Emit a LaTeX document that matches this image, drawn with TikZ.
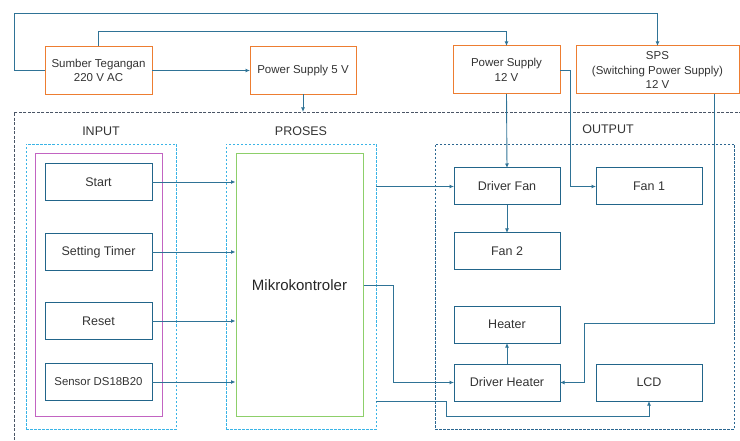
\documentclass[tikz,border=0pt]{standalone}
\usepackage{fontspec}
\setmainfont{Liberation Sans}
\usepackage{xcolor}
\definecolor{psorange}{HTML}{ED7D31}
\definecolor{boxblue}{HTML}{22658A}
\definecolor{lineblue}{HTML}{2F7396}
\definecolor{grpcyan}{HTML}{3AB4E6}
\definecolor{outblue}{HTML}{2B6690}
\definecolor{sysgrey}{HTML}{4A5566}
\definecolor{inpurple}{HTML}{C264C2}
\definecolor{mcgreen}{HTML}{8DCF6A}
\usetikzlibrary{positioning,arrows.meta}
\tikzset{
  psbox/.style ={rectangle, draw=psorange, line width=1pt, align=center, inner sep=2pt,
                 outer sep=0pt, minimum height=48pt, text=black!80,
                 font=\fontsize{11.5}{14.5}\selectfont},
  blk/.style   ={rectangle, draw=boxblue, line width=1pt, align=center, inner sep=2pt,
                 outer sep=0pt, minimum width=107pt, minimum height=37pt, text=black!80,
                 font=\fontsize{12.5}{14}\selectfont},
  grpbox/.style={rectangle, draw=grpcyan, line width=0.9pt, dash pattern=on 2.5pt off 1.5pt,
                 minimum width=150pt, minimum height=285pt, outer sep=0pt},
  sysbox/.style={rectangle, draw=sysgrey, line width=0.9pt, dash pattern=on 3pt off 1.5pt,
                 outer sep=0pt, anchor=north west},
  ttl/.style   ={text=black!80, font=\fontsize{12.5}{14}\selectfont, inner sep=1pt},
  arr/.style   ={-{Latex[length=4.5pt,width=4pt]}, draw=lineblue, line width=0.9pt},
  wire/.style  ={draw=lineblue, line width=0.9pt},
}

\begin{document}
\begin{tikzpicture}[x=1pt, y=-1pt]
  \useasboundingbox (0,0) rectangle (740,441);
  % power sources
  \node[psbox, minimum width=107pt] (src)  at (98.5,70.5) {Sumber Tegangan\\220 V AC};
  \node[psbox, minimum width=106pt] (ps5)  at (303,70.5)  {Power Supply 5 V};
  \node[psbox, minimum width=107pt] (ps12) at (506.5,70)  {Power Supply\\12 V};
  \node[psbox, minimum width=163pt] (sps)  at (657.5,70)  {SPS\\(Switching Power Supply)\\12 V};
  % system frame and groups
  \node[sysbox, minimum width=760pt, minimum height=360pt] (sys) at (14,112) {};
  \node[grpbox] (ingrp)   at (101,286.5) {};
  \node[grpbox] (prosgrp) at (301,286.5) {};
  \node[grpbox, draw=outblue, minimum width=299pt] (outgrp) at (584.5,286.5) {};
  \node[ttl] (inlbl)   at (101,131) {INPUT};
  \node[ttl] (proslbl) at (301,131) {PROSES};
  \node[ttl] (outlbl)  at (608,129) {OUTPUT};
  \node[rectangle, draw=inpurple, line width=1pt, minimum width=127pt, minimum height=262pt] (inlist) at (98.5,285) {};
  % input
  \node[blk] (start) at (98.5,182) {Start};
  \node[blk, below=33pt of start]    (settimer) {Setting Timer};
  \node[blk, below=32pt of settimer] (reset)    {Reset};
  \node[blk, below=24pt of reset, font=\fontsize{11.4}{13}\selectfont] (sensor) {Sensor DS18B20};
  % proses
  \node[rectangle, draw=mcgreen, line width=1pt, minimum width=127pt, minimum height=262pt,
        text=black!85, font=\fontsize{15}{17}\selectfont] (mikro) at (299.5,285) {Mikrokontroler};
  % output
  \node[blk, minimum width=106pt] (drvfan) at (507,186.5) {Driver Fan};
  \node[blk, minimum width=106pt, right=36pt of drvfan] (fan1) {Fan 1};
  \node[blk, minimum width=106pt, below=28pt of drvfan] (fan2) {Fan 2};
  \node[blk, minimum width=106pt] (drvheat) at (507,382.5) {Driver Heater};
  \node[blk, minimum width=106pt, above=21pt of drvheat] (heater) {Heater};
  \node[blk, minimum width=106pt, right=36pt of drvheat] (lcd) {LCD};
  % bend points
  \coordinate (loopA) at (14,13);
  \coordinate (loopB) at (98.5,31);
  \coordinate (fanbend) at (570,70);
  \coordinate (heatbend) at (393,285);
  \coordinate (lcdbend) at (446,416);
  \coordinate (spsb1) at (714,323);
  \coordinate (spsb2) at (584,323);
  % supply lines
  \draw[arr] (src.west) -| (loopA) -| (sps.north);
  \draw[arr] (src.north) |- (ps12.north |- loopB) -- (ps12.north);
  \draw[arr] (src.east) -- (ps5.west);
  \draw[arr] (ps5.south) -- (ps5.south |- sys.north);
  \draw[arr] (ps12.south) -- (drvfan.north);
  \draw[arr] (ps12.east) -| (fanbend |- fan1.west) -- (fan1.west);
  \draw[arr] (sps.south -| spsb1) -- (spsb1) -- (spsb2) |- (drvheat.east);
  % inputs
  \foreach \src in {start,settimer,reset,sensor}
    \draw[arr] (\src.east) -- (\src.east -| mikro.west);
  % outputs
  \draw[arr] (prosgrp.east |- drvfan.west) -- (drvfan.west);
  \draw[arr] (mikro.east) -| (heatbend |- drvheat.west) -- (drvheat.west);
  \draw[arr] (prosgrp.east |- drvheat.south) -| (lcdbend) -| (lcd.south);
  \draw[arr] (drvfan.south) -- (fan2.north);
  \draw[arr] (drvheat.north) -- (heater.south);
\end{tikzpicture}
\end{document}
